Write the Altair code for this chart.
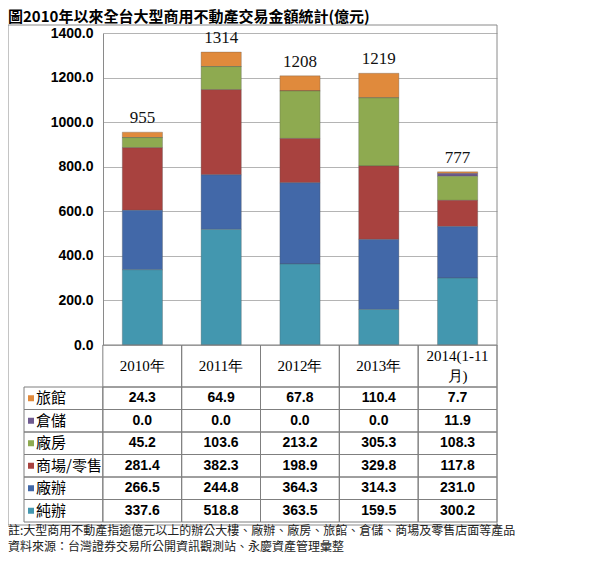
import altair as alt
import pandas as pd

# ---------------- data ----------------
title_text = "圖2010年以來全台大型商用不動產交易金額統計(億元)"
note_lines = [
    "註:大型商用不動產指逾億元以上的辦公大樓、廠辦、廠房、旅館、倉儲、商場及零售店面等產品",
    "資料來源：台灣證券交易所公開資訊觀測站、永慶資產管理彙整",
]
categories = ["2010年", "2011年", "2012年", "2013年", "2014(1-11\n月)"]
series = ["旅館", "倉儲", "廠房", "商場/零售", "廠辦", "純辦"]   # table order, top to bottom
hotel = [24.3, 64.9, 67.8, 110.4, 7.7]
warehouse = [0.0, 0.0, 0.0, 0.0, 11.9]
factory = [45.2, 103.6, 213.2, 305.3, 108.3]
retail = [281.4, 382.3, 198.9, 329.8, 117.8]
factory_office = [266.5, 244.8, 364.3, 314.3, 231.0]
office = [337.6, 518.8, 363.5, 159.5, 300.2]
totals = [955, 1314, 1208, 1219, 777]
y_ticks = [0, 200, 400, 600, 800, 1000, 1200, 1400]
series_colors = ["#E08A3C", "#6E5A90", "#8EAA50", "#A8423F", "#4268A8", "#4397AF"]

values = dict(zip(series, [hotel, warehouse, factory, retail, factory_office, office]))

# ---------------- layout constants ----------------
W, H = 394, 489          # plot/table block
PLOT_H = 312             # bar area height
ROW_PX = 22.5
HEADER_UNITS = 42 / ROW_PX
N_ROWS = len(series)
TY_MAX = N_ROWS + HEADER_UNITS
LINE_UNITS = 20 / ROW_PX

rows = []
for s_i, s in enumerate(series):
    r = N_ROWS - 1 - s_i  # bottom row = 純辦 = stack bottom
    for c_i, c in enumerate(categories):
        v = values[s][c_i]
        rows.append(dict(cat=c, series=s, val=v, order=r, row=r, col=c_i,
                         label=f"{v:.1f}"))
df = pd.DataFrame(rows)

tot_df = pd.DataFrame({"cat": categories, "total": totals})

cells = []
for r in range(N_ROWS):
    for c in range(-1, len(categories)):
        cells.append(dict(x0=c, x1=c + 1, y0=r, y1=r + 1))
for c in range(len(categories)):
    cells.append(dict(x0=c, x1=c + 1, y0=N_ROWS, y1=TY_MAX))
cells_df = pd.DataFrame(cells)

head_rows = []
for c_i, c in enumerate(categories):
    parts = c.split("\n")
    n = len(parts)
    for l_i, p in enumerate(parts):
        head_rows.append(dict(t=p, cx=c_i + 0.5,
                              cy=N_ROWS + HEADER_UNITS / 2 + ((n - 1) / 2 - l_i) * LINE_UNITS))
head_df = pd.DataFrame(head_rows)

leg_df = pd.DataFrame({"series": series,
                       "cy": [N_ROWS - 1 - i + 0.5 for i in range(N_ROWS)]})

# ---------------- scales ----------------
x_band = alt.Scale(domain=categories, paddingInner=0.49, paddingOuter=0.245)
y_bar = alt.Scale(domain=[0, 1400], range=[PLOT_H, 0], nice=False, zero=True)
tx = alt.Scale(domain=[-1, 5], range=[-79, W], nice=False, zero=False)
ty = alt.Scale(domain=[0, TY_MAX], range=[H, PLOT_H], nice=False, zero=False)
col_scale = alt.Scale(domain=series, range=series_colors)

bars = alt.Chart(df).mark_bar(stroke="#505050", strokeWidth=0.5, strokeOpacity=0.6).encode(
    x=alt.X("cat:N", scale=x_band, sort=categories, axis=None),
    y=alt.Y("val:Q", stack="zero", scale=y_bar,
            axis=alt.Axis(values=y_ticks, format=".1f", title=None,
                          labelFont="Liberation Sans", labelFontWeight="bold",
                          labelFontSize=14, labelColor="#000000",
                          ticks=False, labelPadding=10,
                          domainColor="#8a8a8a", gridColor="#b4b4b4",
                          grid=True)),
    color=alt.Color("series:N", scale=col_scale, legend=None),
    order=alt.Order("order:Q", sort="ascending"),
)

tot_text = alt.Chart(tot_df).mark_text(font="Liberation Serif", fontSize=17,
                                       baseline="middle", dy=-14, color="#111111").encode(
    x=alt.X("cat:N", scale=x_band, sort=categories, axis=None),
    y=alt.Y("total:Q", scale=y_bar, axis=None),
    text="total:Q",
)

table_lines = alt.Chart(cells_df).mark_rect(fill="transparent", stroke="#7f7f7f",
                                             strokeWidth=1).encode(
    x=alt.X("x0:Q", scale=tx, axis=None), x2="x1:Q",
    y=alt.Y("y0:Q", scale=ty, axis=None), y2="y1:Q",
)

val_text = alt.Chart(df).transform_calculate(
    cx="datum.col + 0.5", cy="datum.row + 0.5"
).mark_text(font="Liberation Sans", fontWeight="bold", fontSize=14,
            color="#000000", baseline="middle").encode(
    x=alt.X("cx:Q", scale=tx, axis=None),
    y=alt.Y("cy:Q", scale=ty, axis=None),
    text="label:N",
)

head_text = alt.Chart(head_df).mark_text(font="Liberation Serif", fontSize=15,
                                         color="#000000", baseline="middle").encode(
    x=alt.X("cx:Q", scale=tx, axis=None),
    y=alt.Y("cy:Q", scale=ty, axis=None),
    text="t:N",
)

leg_sq = alt.Chart(leg_df).mark_square(size=36, opacity=1).encode(
    x=alt.value(-72),
    y=alt.Y("cy:Q", scale=ty, axis=None),
    color=alt.Color("series:N", scale=col_scale, legend=None),
)

leg_text = alt.Chart(leg_df).mark_text(font="Noto Sans CJK TC", fontSize=15,
                                       align="left", baseline="middle",
                                       color="#000000").encode(
    x=alt.value(-67),
    y=alt.Y("cy:Q", scale=ty, axis=None),
    text="series:N",
)

one = pd.DataFrame({"k": [0]})
box = alt.Chart(one).mark_rect(fill="transparent", stroke="#8a8a8a", strokeWidth=1).encode(
    x=alt.value(-95), x2=alt.value(W), y=alt.value(-8), y2=alt.value(H + 3),
)

title = alt.Chart(one).mark_text(text=title_text, font="Noto Sans CJK TC", fontSize=15,
                                 fontWeight="bold", align="left", baseline="middle",
                                 color="#000000").encode(
    x=alt.value(-95), y=alt.value(-16),
)

note_layers = []
for i, line in enumerate(note_lines):
    note_layers.append(
        alt.Chart(one).mark_text(text=line, font="Noto Sans CJK TC", fontSize=12,
                                 align="left", baseline="middle",
                                 color="#222222").encode(
            x=alt.value(-95), y=alt.value(H + 9 + i * 16),
        )
    )

chart = alt.layer(
    bars, tot_text, table_lines, val_text, head_text, leg_sq, leg_text, box, title,
    *note_layers
).resolve_scale(
    x="independent", y="independent", color="independent"
).properties(
    width=W, height=H,
    padding={"left": 95, "top": 25, "right": 95, "bottom": 32},
    autosize=alt.AutoSizeParams(type="none"),
    background="#ffffff",
).configure_view(strokeWidth=0)

chart.save("out.html", embed_options={"renderer": "svg", "actions": False})
